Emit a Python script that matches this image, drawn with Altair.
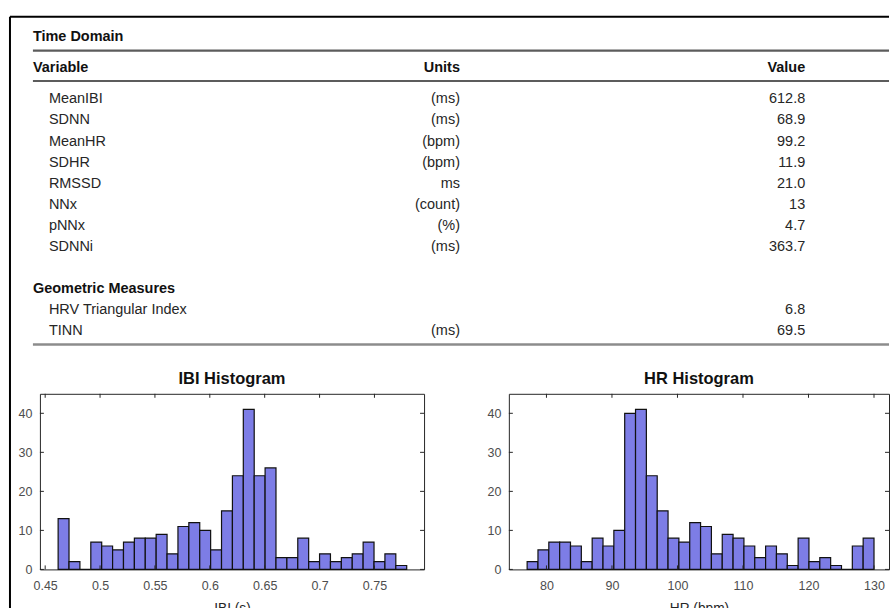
import altair as alt
import pandas as pd
import numpy as np

FONT = "Liberation Sans"

# ---------------- data ----------------
section_titles = ["Time Domain", "Geometric Measures"]
header_labels = ["Variable", "Units", "Value"]

td_vars = ["MeanIBI", "SDNN", "MeanHR", "SDHR", "RMSSD", "NNx", "pNNx", "SDNNi"]
td_units = ["(ms)", "(ms)", "(bpm)", "(bpm)", "ms", "(count)", "(%)", "(ms)"]
td_values = ["612.8", "68.9", "99.2", "11.9", "21.0", "13", "4.7", "363.7"]

geo_vars = ["HRV Triangular Index", "TINN"]
geo_units = ["", "(ms)"]
geo_values = ["6.8", "69.5"]

ibi_counts = [13, 2, 0, 7, 6, 5, 7, 8, 8, 9, 4, 11, 12, 10, 5, 15,
              24, 41, 24, 26, 3, 3, 8, 2, 4, 2, 3, 4, 7, 2, 4, 1]
ibi_bin_range = [0.4618, 0.7794]
ibi_xdomain = [0.4452, 0.7952]
ibi_ticks = [0.45, 0.5, 0.55, 0.6, 0.65, 0.7, 0.75]

hr_counts = [2, 5, 7, 7, 6, 2, 8, 6, 10, 40, 41, 24, 15, 8, 7, 12,
             11, 4, 9, 8, 6, 3, 6, 4, 1, 8, 2, 3, 1, 0, 6, 8]
hr_bin_range = [77.05, 130.0]
hr_xdomain = [74.26, 132.29]
hr_ticks = [80, 90, 100, 110, 120, 130]

count_ticks = [0, 10, 20, 30, 40]
count_domain = [0, 45]

# ---------------- table ----------------
TW, TH = 852, 335
rows_domain = td_vars + [" "] + [section_titles[1]] + geo_vars

table_df = pd.DataFrame({
    "key": td_vars + [section_titles[1]] + geo_vars,
    "label": td_vars + [section_titles[1]] + geo_vars,
    "unit": td_units + [""] + geo_units,
    "value": td_values + [""] + geo_values,
    "kind": ["item"] * len(td_vars) + ["section"] + ["item"] * len(geo_vars),
})

yrow = alt.Y("key:N", axis=None,
             scale=alt.Scale(type="point", domain=rows_domain, range=[83, 315], padding=0))

base = alt.Chart(table_df)
txt = dict(font=FONT, fontSize=14.5, baseline="middle", color="#262626")

item_labels = base.transform_filter("datum.kind == 'item'").mark_text(align="left", **txt).encode(
    x=alt.value(9), y=yrow, text="label:N")
section_labels = base.transform_filter("datum.kind == 'section'").mark_text(
    align="left", fontWeight="bold", **{**txt, "color": "#111"}).encode(
    x=alt.value(-7), y=yrow, text="label:N")
units_t = base.transform_filter("datum.kind == 'item'").mark_text(align="right", **txt).encode(
    x=alt.value(421), y=yrow, text="unit:N")
values_t = base.transform_filter("datum.kind == 'item'").mark_text(align="right", **txt).encode(
    x=alt.value(767), y=yrow, text="value:N")

one = pd.DataFrame({"k": [0]})
hdr = dict(font=FONT, fontSize=14.5, baseline="middle", fontWeight="bold", color="#111")
title_td = alt.Chart(one).mark_text(align="left", **hdr).encode(
    x=alt.value(-7), y=alt.value(20), text=alt.value(section_titles[0]))
h_var = alt.Chart(one).mark_text(align="left", **hdr).encode(
    x=alt.value(-7), y=alt.value(51), text=alt.value(header_labels[0]))
h_units = alt.Chart(one).mark_text(align="right", **hdr).encode(
    x=alt.value(421), y=alt.value(51), text=alt.value(header_labels[1]))
h_value = alt.Chart(one).mark_text(align="right", **hdr).encode(
    x=alt.value(767), y=alt.value(51), text=alt.value(header_labels[2]))

line1 = alt.Chart(one).mark_rule(color="#5c5c5c", strokeWidth=2.2).encode(
    x=alt.value(-7), x2=alt.value(851), y=alt.value(34))
line2 = alt.Chart(one).mark_rule(color="#5c5c5c", strokeWidth=2.2).encode(
    x=alt.value(-7), x2=alt.value(851), y=alt.value(64.5))
line3 = alt.Chart(one).mark_rule(color="#8c8c8c", strokeWidth=2.5).encode(
    x=alt.value(-7), x2=alt.value(851), y=alt.value(328.5))

frame_v = alt.Chart(one).mark_rule(color="#000", strokeWidth=2).encode(
    x=alt.value(-30), y=alt.value(0), y2=alt.value(593))
frame_h = alt.Chart(one).mark_rule(color="#000", strokeWidth=2).encode(
    x=alt.value(-30), x2=alt.value(851), y=alt.value(0))

table = alt.layer(frame_v, frame_h, line1, line2, line3, title_td, h_var, h_units, h_value,
                  item_labels, section_labels, units_t, values_t).properties(
    width=TW, height=TH, view=alt.ViewBackground(stroke="transparent"))

# ---------------- histograms ----------------
PH = 176


def hist(counts, bin_range, xdomain, ticks, fmt, xtitle, title, width):
    edges = np.linspace(bin_range[0], bin_range[1], len(counts) + 1)
    df = pd.DataFrame({"start": edges[:-1], "end": edges[1:], "count": counts})
    xs = alt.Scale(domain=xdomain, nice=False, zero=False)
    ys = alt.Scale(domain=count_domain, nice=False)
    bars = alt.Chart(df).mark_rect(fill="#7d7de6", stroke="#111", strokeWidth=1.2).encode(
        x=alt.X("start:Q", scale=xs,
                axis=alt.Axis(values=ticks, format=fmt, title=xtitle, ticks=False, tickSize=0,
                              domain=False, grid=False, labelPadding=10, titlePadding=10,
                              labelFont=FONT, labelFontSize=12.5, labelColor="#4d4d4d",
                              titleFont=FONT, titleFontSize=13.75, titleFontWeight="normal",
                              titleColor="#262626")),
        x2="end:Q",
        y=alt.Y("count:Q", scale=ys,
                axis=alt.Axis(values=count_ticks, title=None, ticks=False, tickSize=0,
                              domain=False, grid=False, labelPadding=8,
                              labelFont=FONT, labelFontSize=12.5, labelColor="#4d4d4d")),
        y2=alt.datum(0),
    )
    tdf = pd.DataFrame({"v": ticks})
    cdf = pd.DataFrame({"c": count_ticks})
    tick_b = alt.Chart(tdf).mark_rule(color="#262626").encode(
        x=alt.X("v:Q", scale=xs), y=alt.value(PH), y2=alt.value(PH - 4))
    tick_t = alt.Chart(tdf).mark_rule(color="#262626").encode(
        x=alt.X("v:Q", scale=xs), y=alt.value(0), y2=alt.value(4))
    tick_l = alt.Chart(cdf).mark_rule(color="#262626").encode(
        y=alt.Y("c:Q", scale=ys), x=alt.value(0), x2=alt.value(4))
    tick_r = alt.Chart(cdf).mark_rule(color="#262626").encode(
        y=alt.Y("c:Q", scale=ys), x=alt.value(width), x2=alt.value(width - 4))
    return alt.layer(bars, tick_b, tick_t, tick_l, tick_r).properties(
        width=width, height=PH,
        view=alt.ViewBackground(stroke="#262626", strokeWidth=1),
        title=alt.TitleParams(title, font=FONT, fontSize=16.5, fontWeight="bold",
                              color="#111", offset=6, anchor="middle"))


ibi = hist(ibi_counts, ibi_bin_range, ibi_xdomain, ibi_ticks, ".2~f", "IBI (s)", "IBI Histogram", 385)
hr = hist(hr_counts, hr_bin_range, hr_xdomain, hr_ticks, "d", "HR (bpm)", "HR Histogram", 381)

bottom = alt.hconcat(ibi, hr, spacing=85, bounds="flush")

chart = alt.vconcat(table, bottom, spacing=43, bounds="flush").properties(
    padding={"left": 8, "top": 14, "right": 0, "bottom": -7},
    background="white",
).configure_view(stroke="transparent")

chart.save("out.html", embed_options={"renderer": "svg", "actions": False})
